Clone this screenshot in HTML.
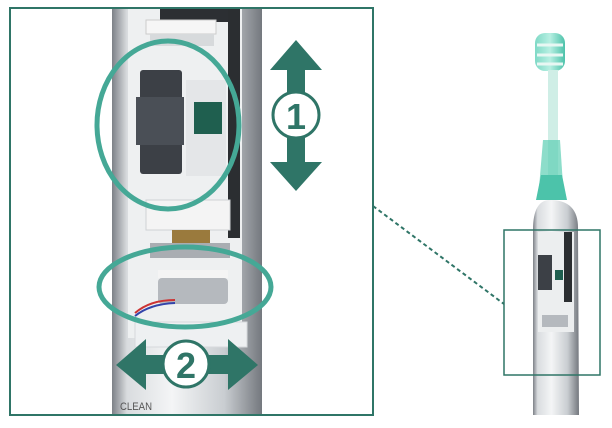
<!DOCTYPE html>
<html><head><style>
html,body{margin:0;padding:0;background:#fff;width:612px;height:428px;overflow:hidden}
svg{display:block}
</style></head><body>
<svg width="612" height="428" viewBox="0 0 612 428" xmlns="http://www.w3.org/2000/svg">
<defs>
<linearGradient id="silver" x1="0" x2="1" y1="0" y2="0">
<stop offset="0" stop-color="#7d8187"/><stop offset="0.1" stop-color="#d9dcdf"/><stop offset="0.4" stop-color="#f4f5f6"/><stop offset="0.75" stop-color="#c9cdd1"/><stop offset="1" stop-color="#74787e"/>
</linearGradient>
<linearGradient id="teal" x1="0" x2="1"><stop offset="0" stop-color="#7fd9c6"/><stop offset="0.5" stop-color="#b7efe2"/><stop offset="1" stop-color="#4dc2aa"/></linearGradient>
</defs>
<!-- big handle -->
<rect x="112" y="8" width="150" height="407" fill="url(#silver)"/>
<rect x="128" y="8" width="114" height="330" fill="#eef0f1"/>
<rect x="160" y="8" width="78" height="14" fill="#2c2f33"/>
<rect x="146" y="20" width="70" height="14" fill="#f6f6f6" stroke="#ccc"/>
<rect x="150" y="34" width="64" height="12" fill="#d7dadc"/>
<rect x="228" y="8" width="12" height="230" fill="#2b2e31"/>
<rect x="140" y="70" width="42" height="104" fill="#3c4046" rx="3"/>
<rect x="136" y="97" width="48" height="48" fill="#4a4f56"/>
<rect x="186" y="80" width="40" height="96" fill="#e4e6e8"/>
<rect x="194" y="102" width="28" height="32" fill="#1f5f4f"/>
<rect x="146" y="200" width="84" height="30" fill="#f4f4f4" stroke="#cfd2d5"/>
<rect x="172" y="230" width="38" height="16" fill="#9a7a3d"/>
<rect x="150" y="243" width="80" height="15" fill="#a9adb2"/>
<rect x="158" y="270" width="70" height="8" fill="#f4f4f4"/>
<rect x="158" y="278" width="70" height="26" fill="#b5b9be" rx="4"/>
<path d="M135 313 Q150 300 175 300" stroke="#c33" stroke-width="2" fill="none"/>
<path d="M135 316 Q150 304 175 303" stroke="#34a" stroke-width="2" fill="none"/>
<rect x="135" y="322" width="112" height="25" fill="#eef0f2" stroke="#d6d9dc"/>
<text x="120" y="410" font-family="Liberation Sans, sans-serif" font-size="11" fill="#555" textLength="32" lengthAdjust="spacingAndGlyphs">CLEAN</text>
<!-- ellipses -->
<ellipse cx="168" cy="125" rx="71" ry="84" fill="none" stroke="#45a896" stroke-width="5"/>
<ellipse cx="185" cy="287" rx="86" ry="40" fill="none" stroke="#45a896" stroke-width="5"/>
<!-- arrow 1 -->
<path d="M296 40 L322 70 L305 70 L305 162 L322 162 L296 191 L270 162 L287 162 L287 70 L270 70 Z" fill="#2f7567"/>
<circle cx="296" cy="115" r="23" fill="#fff" stroke="#2f7567" stroke-width="3"/>
<text x="296" y="129" text-anchor="middle" font-family="Liberation Sans, sans-serif" font-size="36" font-weight="bold" fill="#2f7567">1</text>
<!-- arrow 2 -->
<path d="M116 365 L146 339 L146 355 L228 355 L228 339 L258 365 L228 390 L228 374 L146 374 L146 390 Z" fill="#2f7567"/>
<circle cx="186" cy="364" r="23" fill="#fff" stroke="#2f7567" stroke-width="3"/>
<text x="186" y="378" text-anchor="middle" font-family="Liberation Sans, sans-serif" font-size="36" font-weight="bold" fill="#2f7567">2</text>
<!-- box -->
<rect x="10" y="8" width="363" height="407" fill="none" stroke="#2f7567" stroke-width="2"/>
<!-- dashed line -->
<line x1="373" y1="206" x2="504" y2="304" stroke="#2f7567" stroke-width="2" stroke-dasharray="4 3"/>
<!-- small toothbrush -->
<rect x="535" y="33" width="30" height="38" rx="10" fill="url(#teal)"/>
<path d="M537 45 H563 M537 55 H563 M537 64 H563" stroke="#e8f7f3" stroke-width="3"/>
<rect x="548" y="70" width="10" height="105" fill="#cfeee6"/>
<path d="M543 140 L560 140 L564 200 L538 200 Z" fill="#5ccfb4" opacity="0.7"/>
<path d="M541 175 L562 175 L567 200 L536 200 Z" fill="#4cc3aa"/>
<path d="M533 230 Q533 200 550 200 Q579 200 578 230 L579 415 L533 415 Z" fill="url(#silver)"/>
<rect x="538" y="232" width="36" height="100" fill="#eceeef"/>
<rect x="564" y="232" width="8" height="70" fill="#2b2e31"/>
<rect x="538" y="255" width="14" height="35" fill="#3c4046"/>
<rect x="555" y="270" width="8" height="10" fill="#1f5f4f"/>
<rect x="542" y="315" width="26" height="12" fill="#b5b9be"/>
<rect x="504" y="230" width="96" height="145" fill="none" stroke="#2f7567" stroke-width="1.5"/>
</svg>
</body></html>
